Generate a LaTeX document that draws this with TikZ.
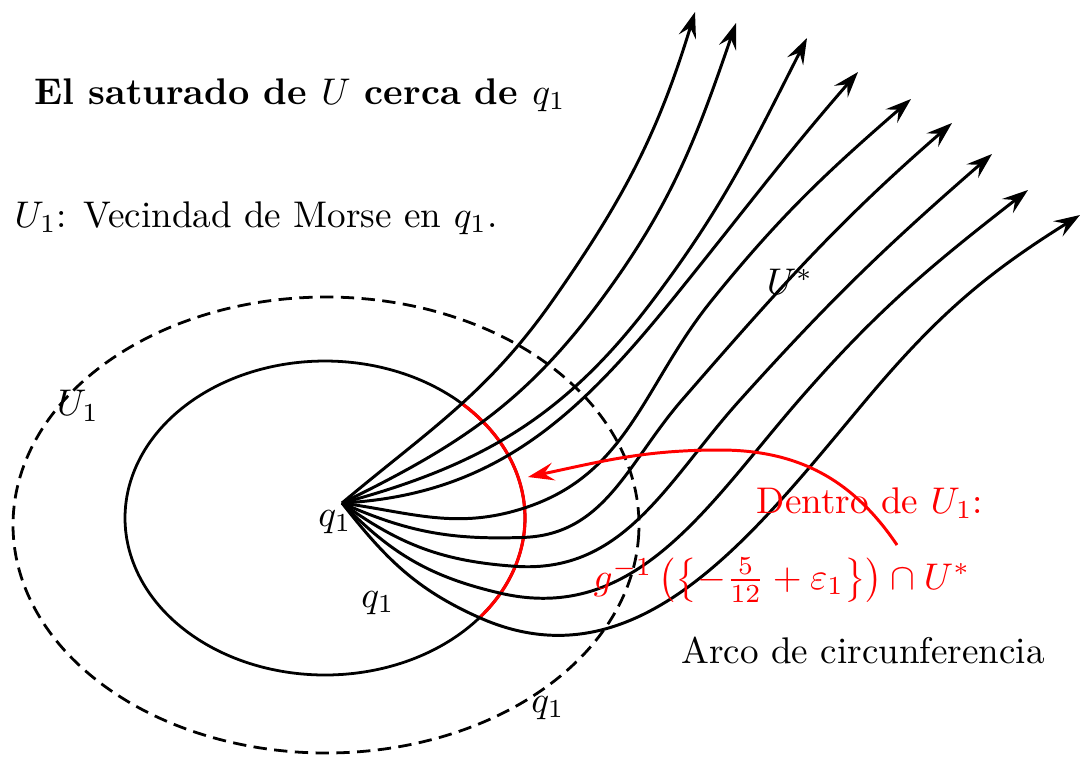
\documentclass[tikz,border=0pt]{standalone}
\usetikzlibrary{arrows.meta}
\tikzset{
  tip/.tip={Stealth[length=7pt,width=4.8pt,inset=2.6pt]},
  flow/.style={line width=0.8pt, -tip},
  curve/.style={line width=0.75pt},
  redarc/.style={red, line width=0.85pt},
  redarrow/.style={red, line width=0.8pt, -tip},
  lbl/.style={inner sep=0pt},
}
\begin{document}
\begin{tikzpicture}[x=0.2695pt,y=-0.2695pt]
\useasboundingbox (0,0) rectangle (1081,758);
% ellipses
\draw[curve] plot[domain=0:360, samples=120, smooth cycle] ({325+200*cos(\x)}, {518+157*sin(\x)});
\draw[curve, dash pattern=on 3.6pt off 2pt] plot[domain=0:360, samples=160, smooth cycle] ({326+313*cos(\x)}, {525+228*sin(\x)});
\draw[redarc] plot[domain=-46.9:39.4, samples=50, smooth] ({325+200*cos(\x)}, {518+157*sin(\x)});
% base point and arrow ends
\coordinate (q1) at (342,503);
\coordinate (t1) at (695,12);
\coordinate (t2) at (736,23);
\coordinate (t3) at (807,38);
\coordinate (t4) at (858,72);
\coordinate (t5) at (911,99);
\coordinate (t6) at (952,123);
\coordinate (t7) at (992,154);
\coordinate (t8) at (1028,190);
\coordinate (t9) at (1080,215);
% flow lines
\draw[flow] (q1) to[out=40, in=235] (553,300) to[out=55, in=253] (t1);
\draw[flow] (q1) to[out=26, in=233.5] (601,300) to[out=53.5, in=251] (t2);
\draw[flow] (q1) to[out=15, in=233] (653,300) to[out=53, in=243] (t3);
\draw[flow] (q1) to[out=3, in=231] (672,300) to[out=51, in=229] (t4);
\draw[flow] (q1) to[out=-8, in=198] (524.6,507.9) to[out=18, in=231] (712,300) to[out=51, in=221] (t5);
\draw[flow] (q1) to[out=-24, in=182] (523.5,537.4) to[out=2, in=229] (682,400) to[out=49, in=221] (t6);
\draw[flow] (q1) to[out=-36, in=176] (515.3,566.3) to[out=-4, in=228] (740,400) to[out=48, in=221] (t7);
\draw[flow] (q1) to[out=-46, in=167] (500.5,593.2) to[out=-13, in=229] (799,400) to[out=49, in=218] (t8);
\draw[flow] (q1) to[out=-52, in=156] (479.6,617.7) to[out=-24, in=230] (866,400) to[out=50, in=212] (t9);
% red arrow
\coordinate (rs) at (897,545);
\coordinate (rp) at (720,450);
\coordinate (re) at (528,477);
\draw[redarrow] (rs) to[out=124, in=0] (rp) to[out=180, in=12] (re);
% labels
\node[lbl] (title) at (300,95) {\textbf{El saturado de $U$ cerca de $q_1$}};
\node[lbl, anchor=west] (morse) at (14,218) {$U_1$: Vecindad de Morse en $q_1$.};
\node[lbl] (u1) at (78,406) {$U_1$};
\node[lbl] (ustar) at (790,282) {$U^*$};
\node[lbl] (q1a) at (335,522) {$q_1$};
\node[lbl] (q1b) at (378,603) {$q_1$};
\node[lbl] (q1c) at (548,708) {$q_1$};
\node[lbl] (arco) at (863,650) {Arco de circunferencia};
\node[lbl, text=red] (dentro) at (870,503) {Dentro de $U_1$:};
\node[lbl, text=red] (form) at (782,580) {$g^{-1}\left(\left\{-\frac{5}{12}+\varepsilon_1\right\}\right)\cap U^*$};
\end{tikzpicture}
\end{document}
